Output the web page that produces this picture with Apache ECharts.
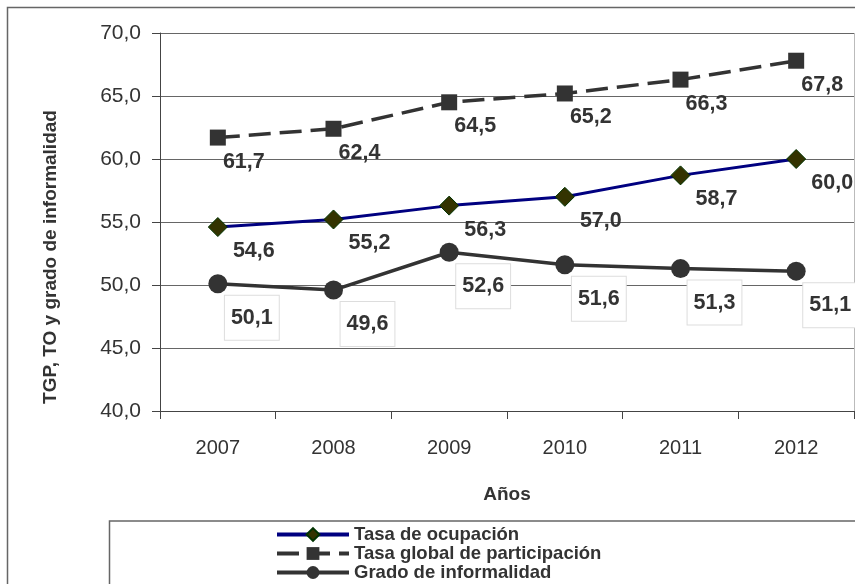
<!DOCTYPE html>
<html>
<head>
<meta charset="utf-8">
<script src="https://cdn.jsdelivr.net/npm/echarts@6/dist/echarts.min.js"></script>
<style>
  html, body { margin: 0; padding: 0; background: #fff; }
  #chart { width: 855px; height: 584px; }
</style>
</head>
<body>
<div id="chart"></div>
<script>
// Años del período
const years = ['2007', '2008', '2009', '2010', '2011', '2012'];

// Tasa de ocupación (TO)
const tasaOcupacion = [54.6, 55.2, 56.3, 57.0, 58.7, 60.0];
// Tasa global de participación (TGP)
const tasaGlobal = [61.7, 62.4, 64.5, 65.2, 66.3, 67.8];
// Grado de informalidad
const gradoInformalidad = [50.1, 49.6, 52.6, 51.6, 51.3, 51.1];

// Escala del eje vertical
const yMin = 40, yMax = 70, yStep = 5;

const FONT = '"Liberation Sans", Arial, sans-serif';
const TXT = '#333333';
const fmt = v => Number(v).toFixed(1).replace('.', ',');

const chart = echarts.init(document.getElementById('chart'), null, { renderer: 'canvas' });

const dataLabel = (offset, extra) => Object.assign({
  show: true,
  position: 'inside',
  offset: offset,
  formatter: p => fmt(p.value),
  color: TXT,
  fontFamily: FONT,
  fontWeight: 'bold',
  fontSize: 21.5
}, extra || {});

chart.setOption({
  backgroundColor: '#ffffff',
  animation: false,
  textStyle: { fontFamily: FONT },
  grid: { left: 160, right: 1, top: 33, bottom: 173, containLabel: false },
  xAxis: {
    type: 'category',
    data: years,
    boundaryGap: true,
    name: 'Años',
    nameLocation: 'middle',
    nameGap: 74,
    nameTextStyle: { color: TXT, fontFamily: FONT, fontWeight: 'bold', fontSize: 19 },
    axisLine: { lineStyle: { color: '#444', width: 1 } },
    axisTick: { show: true, length: 8, alignWithLabel: false, lineStyle: { color: '#444' } },
    axisLabel: { color: TXT, fontFamily: FONT, fontSize: 20, margin: 27 },
    splitLine: { show: false }
  },
  yAxis: {
    type: 'value',
    min: yMin,
    max: yMax,
    interval: yStep,
    axisLine: { show: true, lineStyle: { color: '#444', width: 1 } },
    axisTick: { show: true, length: 8, lineStyle: { color: '#444' } },
    axisLabel: { color: TXT, fontFamily: FONT, fontSize: 21, margin: 19, formatter: v => fmt(v) },
    splitLine: { show: true, lineStyle: { color: '#666', width: 1 } }
  },
  legend: {
    orient: 'vertical',
    left: 275,
    top: 525,
    height: 80,
    padding: 0,
    itemWidth: 72,
    itemHeight: 16,
    itemGap: 0,
    lineStyle: { width: 4 },
    textStyle: { color: TXT, fontFamily: FONT, fontWeight: 'bold', fontSize: 18.5, lineHeight: 16 },
    data: ['Tasa de ocupación', 'Tasa global de participación', 'Grado de informalidad']
  },
  graphic: [
    { type: 'rect', silent: true, z: -1,
      shape: { x: 7.5, y: 7.5, width: 1000, height: 800 },
      style: { fill: 'none', stroke: '#666', lineWidth: 1.5 } },
    { type: 'rect', silent: true, z: -1,
      shape: { x: 109.5, y: 521, width: 900, height: 200 },
      style: { fill: 'none', stroke: '#666', lineWidth: 1.5 } },
    { type: 'line', silent: true, z: -1,
      shape: { x1: 854.5, y1: 33, x2: 854.5, y2: 411 },
      style: { stroke: '#bbb', lineWidth: 1 } },
    // Título del eje vertical
    { type: 'text', silent: true,
      x: 51, y: 257, rotation: Math.PI / 2,
      style: {
        text: 'TGP, TO y grado de informalidad',
        fill: TXT, font: 'bold 19px ' + FONT,
        align: 'center', verticalAlign: 'middle'
      } }
  ],
  series: [
    {
      name: 'Tasa de ocupación',
      type: 'line',
      data: tasaOcupacion,
      symbol: 'diamond',
      symbolSize: 19,
      lineStyle: { color: '#000080', width: 3 },
      itemStyle: { color: '#333300', borderColor: '#003300', borderWidth: 1 },
      label: dataLabel([36, 24]),
      z: 3
    },
    {
      name: 'Tasa global de participación',
      type: 'line',
      data: tasaGlobal,
      symbol: 'rect',
      symbolSize: 16,
      lineStyle: { color: '#333333', width: 3.5, type: [22, 9] },
      itemStyle: { color: '#333333' },
      label: dataLabel([26, 24]),
      z: 3
    },
    {
      name: 'Grado de informalidad',
      type: 'line',
      data: gradoInformalidad,
      symbol: 'circle',
      symbolSize: 19,
      lineStyle: { color: '#333333', width: 3.5 },
      itemStyle: { color: '#333333' },
      label: dataLabel([34, 34], {
        backgroundColor: '#ffffff',
        borderColor: '#dddddd',
        borderWidth: 1,
        padding: [12, 6, 10, 6]
      }),
      z: 3
    }
  ]
});
</script>
</body>
</html>
